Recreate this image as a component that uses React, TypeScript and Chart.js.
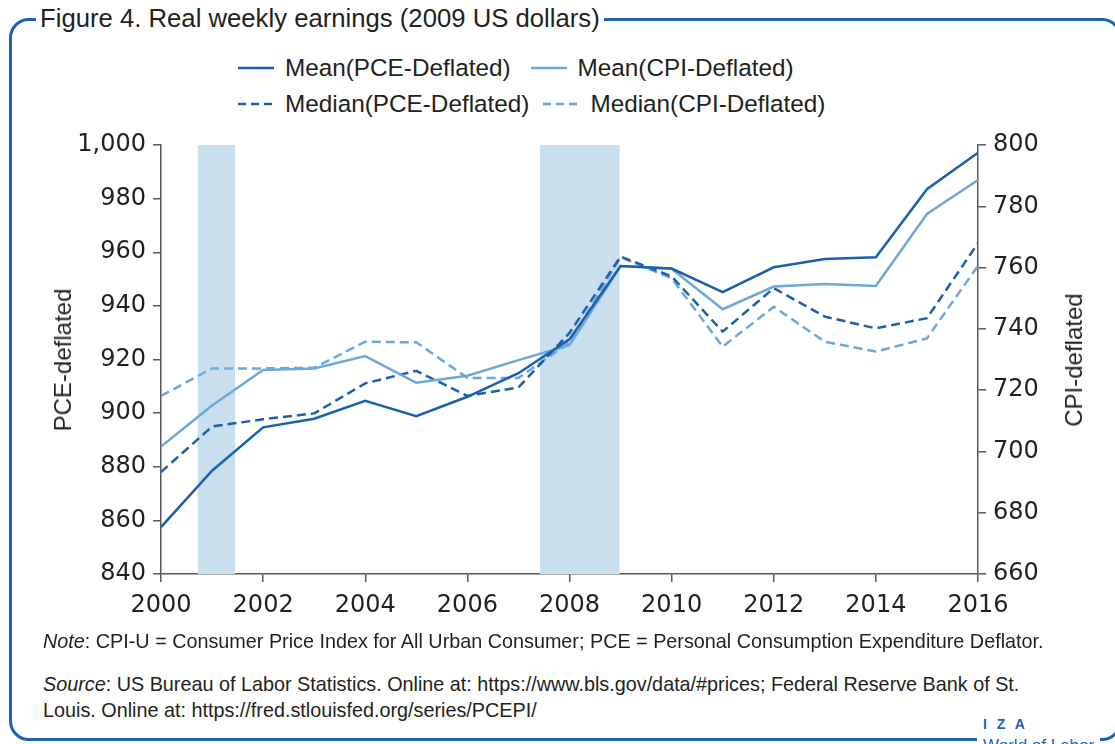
import React, { useEffect, useRef } from "react";
import { Chart, registerables } from "chart.js";

Chart.register(...registerables);

const years = [2000, 2001, 2002, 2003, 2004, 2005, 2006, 2007, 2008, 2009, 2010, 2011, 2012, 2013, 2014, 2015, 2016];
const meanPCE = [857.5, 878.5, 894.7, 897.9, 904.6, 898.9, 906.1, 914.9, 927.5, 954.9, 953.9, 945.1, 954.4, 957.5, 958.1, 983.5, 997.1];
const meanCPI = [701.6, 715.0, 726.6, 727.1, 731.1, 722.4, 724.7, 729.8, 734.7, 760.5, 759.6, 746.4, 753.8, 754.6, 754.0, 777.5, 788.6];
const medianPCE = [878.0, 895.0, 897.7, 899.9, 911.1, 915.8, 906.4, 909.6, 929.9, 958.4, 951.0, 930.4, 946.6, 936.0, 931.6, 935.4, 963.4];
const medianCPI = [718.1, 727.1, 727.1, 727.3, 735.8, 735.6, 724.0, 724.0, 735.5, 763.4, 756.5, 734.2, 747.2, 735.8, 732.6, 736.9, 760.6];
const seriesLabels = ["Mean(PCE-Deflated)", "Mean(CPI-Deflated)", "Median(PCE-Deflated)", "Median(CPI-Deflated)"];
const recessionStart = [2000.72, 2007.42];
const recessionEnd = [2001.45, 2008.98];

const DARK = "#1b60ab";
const LIGHT = "#6ba9d8";
const BAND = "#c9dfee";
const FRAME = "#1d63b0";
const TEXT = "#231f20";
const AXIS = "#595959";

const bandPlugin = {
  id: "bands",
  beforeDatasetsDraw(chart: any) {
    const { ctx, chartArea, scales } = chart;
    const x = scales.x;
    ctx.save();
    ctx.fillStyle = BAND;
    for (let i = 0; i < recessionStart.length; i++) {
      const x0 = x.getPixelForValue(recessionStart[i]);
      const x1 = x.getPixelForValue(recessionEnd[i]);
      ctx.fillRect(x0, chartArea.top, x1 - x0, chartArea.bottom - chartArea.top);
    }
    ctx.restore();
  },
};

function pts(vals: number[]) {
  return vals.map((v, i) => ({ x: years[i], y: v }));
}

const tickFont = { family: "DejaVu Sans", size: 24 };

export default function App() {
  const ref = useRef<HTMLCanvasElement>(null);
  useEffect(() => {
    if (!ref.current) return;
    const common = { pointRadius: 0, borderWidth: 2.5, tension: 0, fill: false };
    const chart = new Chart(ref.current, {
      type: "line",
      data: {
        datasets: [
          { ...common, label: seriesLabels[0], data: pts(meanPCE), borderColor: DARK, yAxisID: "y" },
          { ...common, label: seriesLabels[1], data: pts(meanCPI), borderColor: LIGHT, yAxisID: "y2" },
          { ...common, label: seriesLabels[2], data: pts(medianPCE), borderColor: DARK, borderDash: [9, 5], yAxisID: "y" },
          { ...common, label: seriesLabels[3], data: pts(medianCPI), borderColor: LIGHT, borderDash: [9, 5], yAxisID: "y2" },
        ],
      },
      options: {
        animation: false,
        responsive: false,
        devicePixelRatio: 1,
        layout: { padding: { top: 25, left: 0, right: 0, bottom: 0 } },
        plugins: { legend: { display: false }, tooltip: { enabled: false } },
        scales: {
          x: {
            type: "linear",
            min: 2000,
            max: 2016,
            afterFit: (s: any) => { s.height = 56; },
            ticks: { stepSize: 2, font: tickFont, color: TEXT, padding: 9, maxRotation: 0, callback: (v: any) => String(v) },
            grid: { drawOnChartArea: false, drawTicks: true, tickLength: 8, color: AXIS, lineWidth: 1.5 },
            border: { display: true, color: AXIS, width: 1.5 },
          },
          y: {
            type: "linear",
            position: "left",
            min: 840,
            max: 1000,
            afterFit: (s: any) => { s.width = 161; },
            ticks: { stepSize: 20, font: tickFont, color: TEXT, padding: 7 },
            grid: { drawOnChartArea: false, drawTicks: true, tickLength: 8, color: AXIS, lineWidth: 1.5 },
            border: { display: true, color: AXIS, width: 1.5 },
          },
          y2: {
            type: "linear",
            position: "right",
            min: 660,
            max: 800,
            afterFit: (s: any) => { s.width = 137; },
            ticks: { stepSize: 20, font: tickFont, color: TEXT, padding: 7 },
            grid: { drawOnChartArea: false, drawTicks: true, tickLength: 8, color: AXIS, lineWidth: 1.5 },
            border: { display: true, color: AXIS, width: 1.5 },
          },
        },
      },
      plugins: [bandPlugin],
    } as any);
    return () => chart.destroy();
  }, []);

  const font = "'Liberation Sans', Arial, sans-serif";
  const legendItem = (label: string, color: string, dashed: boolean, gapAfter: number) => (
    <div style={{ display: "flex", alignItems: "center", marginRight: gapAfter }}>
      <svg width={36} height={6} style={{ display: "block" }}>
        <line x1={0} y1={3} x2={36} y2={3} stroke={color} strokeWidth={2.5} strokeDasharray={dashed ? "8,5" : undefined} />
      </svg>
      <span style={{ marginLeft: 11 }}>{label}</span>
    </div>
  );

  return (
    <div style={{ position: "absolute", left: 0, top: 0, width: 1115, height: 744, overflow: "hidden", background: "#fff", fontFamily: font, color: TEXT }}>
      <div style={{ position: "absolute", left: 9, top: 18, width: 1113, height: 723, boxSizing: "border-box", border: `3px solid ${FRAME}`, borderRadius: 20 }} />
      <div style={{ position: "absolute", left: 0, top: 120 }}>
        <canvas ref={ref} width={1115} height={510} style={{ display: "block", width: 1115, height: 510 }} />
      </div>
      <div style={{ position: "absolute", left: 36, top: 5, padding: "0 4px", background: "#fff", fontSize: 25.7, lineHeight: "26px", whiteSpace: "nowrap" }}>
        Figure 4. Real weekly earnings (2009 US dollars)
      </div>
      <div style={{ position: "absolute", left: 238, top: 55, display: "flex", fontSize: 24.3, lineHeight: "26px", whiteSpace: "nowrap" }}>
        {legendItem(seriesLabels[0], DARK, false, 20)}
        {legendItem(seriesLabels[1], LIGHT, false, 0)}
      </div>
      <div style={{ position: "absolute", left: 238, top: 91, display: "flex", fontSize: 24.3, lineHeight: "26px", whiteSpace: "nowrap" }}>
        {legendItem(seriesLabels[2], DARK, true, 14)}
        {legendItem(seriesLabels[3], LIGHT, true, 0)}
      </div>
      <div style={{ position: "absolute", left: 63, top: 360, transform: "translate(-50%, -50%) rotate(-90deg)", fontSize: 24, lineHeight: "24px", whiteSpace: "nowrap" }}>
        PCE-deflated
      </div>
      <div style={{ position: "absolute", left: 1074, top: 360, transform: "translate(-50%, -50%) rotate(-90deg)", fontSize: 24, lineHeight: "24px", whiteSpace: "nowrap" }}>
        CPI-deflated
      </div>
      <div style={{ position: "absolute", left: 43, top: 628, fontSize: 19.8, lineHeight: "26px", whiteSpace: "nowrap" }}>
        <i>Note</i>: CPI-U = Consumer Price Index for All Urban Consumer; PCE = Personal Consumption Expenditure Deflator.
      </div>
      <div style={{ position: "absolute", left: 43, top: 671, fontSize: 19.8, lineHeight: "26px", whiteSpace: "nowrap" }}>
        <i>Source</i>: US Bureau of Labor Statistics. Online at: https://www.bls.gov/data/#prices; Federal Reserve Bank of St.
        <br />
        Louis. Online at: https://fred.stlouisfed.org/series/PCEPI/
      </div>
      <div style={{ position: "absolute", left: 983, top: 717, fontSize: 14, lineHeight: "14px", fontWeight: "bold", color: FRAME, letterSpacing: 3, whiteSpace: "nowrap" }}>
        I Z A
      </div>
      <div style={{ position: "absolute", left: 977, top: 737, padding: "0 6px", background: "#fff", fontSize: 17, lineHeight: "17px", color: FRAME, whiteSpace: "nowrap" }}>
        World of Labor
      </div>
    </div>
  );
}
